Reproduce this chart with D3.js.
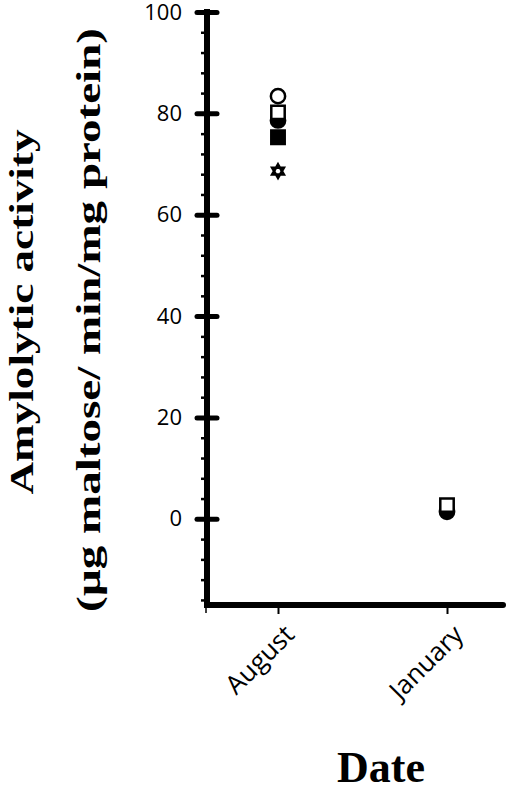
<!DOCTYPE html>
<html>
<head>
<meta charset="utf-8">
<script src="https://cdn.jsdelivr.net/npm/d3@7"></script>
<style>
  body { margin: 0; background: #fff; }
  svg { display: block; }
</style>
</head>
<body>
<svg id="chart" width="510" height="788"></svg>
<script>
// data
const dates = ["August", "January"];
const majorTicks = [0, 20, 40, 60, 80, 100];
const minorTicks = [-16, -12, -8, -4, 4, 8, 12, 16, 24, 28, 32, 36, 44, 48, 52, 56, 64, 68, 72, 76, 84, 88, 92, 96];

// one entry per series, drawn in this order
const filledSquare = [{date: "August", value: 75.3}];
const filledCircle = [{date: "August", value: 78.6}, {date: "January", value: 1.4}];
const openSquare   = [{date: "August", value: 80.2}, {date: "January", value: 2.7}];
const openCircle   = [{date: "August", value: 83.4}];
const openStar     = [{date: "August", value: 68.6}];

const svg = d3.select("#chart");

const y = d3.scaleLinear().domain([-17, 100]).range([605, 12]);
const x = d3.scalePoint().domain(dates).range([278, 447]);
const axisX0 = 207, axisX1 = 503;

// star of David symbol
const hexagram = {
  draw(ctx, size) {
    const r = Math.sqrt(size) * 0.62;
    for (const rot of [-Math.PI / 2, Math.PI / 2]) {
      for (let i = 0; i < 3; i++) {
        const a = rot + i * 2 * Math.PI / 3;
        const px = r * Math.cos(a), py = r * Math.sin(a);
        if (i === 0) ctx.moveTo(px, py); else ctx.lineTo(px, py);
      }
      ctx.closePath();
    }
  }
};

// y axis: major ticks (crossing) with labels
svg.append("g")
  .attr("transform", `translate(${axisX0},0)`)
  .call(d3.axisLeft(y).tickValues(majorTicks).tickSize(10).tickPadding(15))
  .call(g => g.select(".domain").remove())
  .call(g => g.selectAll(".tick line").attr("x1", 10).attr("stroke", "#000").attr("stroke-width", 5).attr("stroke-linecap", "round"))
  .call(g => g.selectAll(".tick text").attr("font-family", "Open Sans").attr("font-size", 22).attr("fill", "#000"));

// y axis: minor ticks
svg.append("g")
  .attr("transform", `translate(${axisX0},0)`)
  .call(d3.axisLeft(y).tickValues(minorTicks).tickSize(6).tickFormat(""))
  .call(g => g.select(".domain").remove())
  .call(g => g.selectAll(".tick line").attr("stroke", "#000").attr("stroke-width", 2.5));

// y axis line
svg.append("line")
  .attr("x1", axisX0).attr("x2", axisX0)
  .attr("y1", y(100)).attr("y2", y(-17))
  .attr("stroke", "#000").attr("stroke-width", 6).attr("stroke-linecap", "square");
svg.append("line")
  .attr("x1", axisX0 - 1).attr("x2", axisX0 - 1)
  .attr("y1", y(-17)).attr("y2", y(-17) + 8)
  .attr("stroke", "#000").attr("stroke-width", 1.5);

// x axis
svg.append("g")
  .attr("transform", `translate(0,${y(-17)})`)
  .call(d3.axisBottom(x).tickSize(9).tickPadding(12))
  .call(g => g.select(".domain").remove())
  .call(g => g.selectAll(".tick line").attr("stroke", "#000").attr("stroke-width", 2))
  .call(g => g.selectAll(".tick text")
    .attr("font-family", "Open Sans").attr("font-size", 26).attr("fill", "#000")
    .attr("text-anchor", "end")
    .attr("dy", "0.35em")
    .attr("transform", "translate(-4,10) rotate(-45)"));

svg.append("line")
  .attr("x1", axisX0).attr("x2", axisX1)
  .attr("y1", y(-17)).attr("y2", y(-17))
  .attr("stroke", "#000").attr("stroke-width", 6).attr("stroke-linecap", "round");

// markers
const plot = (data, type, size, fill) => svg.append("g")
  .selectAll("path")
  .data(data)
  .join("path")
  .attr("transform", d => `translate(${x(d.date)},${y(d.value)})`)
  .attr("d", d3.symbol().type(type).size(size))
  .attr("fill", fill)
  .attr("stroke", "#000")
  .attr("stroke-width", 2.5);

plot(filledSquare, d3.symbolSquare, 180, "#000");
plot(filledCircle, d3.symbolCircle, 160, "#000");
plot(openSquare, d3.symbolSquare, 180, "#fff");
plot(openCircle, d3.symbolCircle, 160, "#fff");
plot(openStar, hexagram, 120, "#fff");

// titles
const yTitle = svg.append("g").attr("font-family", "Liberation Serif").attr("font-weight", "bold").attr("fill", "#000");
yTitle.append("text")
  .attr("transform", "translate(33,312) rotate(-90)")
  .attr("text-anchor", "middle")
  .attr("font-size", 34)
  .attr("textLength", 365).attr("lengthAdjust", "spacingAndGlyphs")
  .text("Amylolytic activity");
yTitle.append("text")
  .attr("transform", "translate(100,320) rotate(-90)")
  .attr("text-anchor", "middle")
  .attr("font-size", 34)
  .attr("textLength", 584).attr("lengthAdjust", "spacingAndGlyphs")
  .text("(µg maltose/ min/mg protein)");

svg.append("text")
  .attr("x", 381).attr("y", 782)
  .attr("text-anchor", "middle")
  .attr("font-family", "Liberation Serif").attr("font-weight", "bold")
  .attr("font-size", 44).attr("fill", "#000")
  .text("Date");
</script>
</body>
</html>
